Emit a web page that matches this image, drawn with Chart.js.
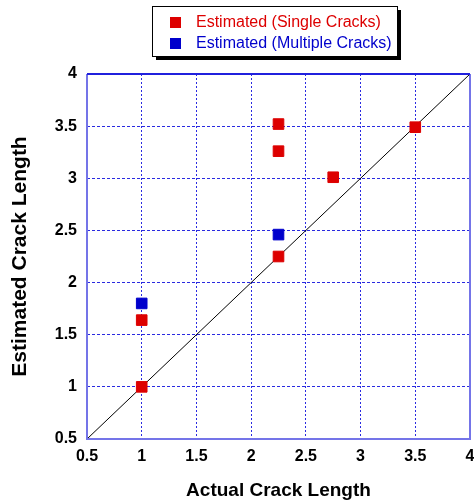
<!DOCTYPE html>
<html lang="en">
<head>
    <meta charset="UTF-8">
    <title>Estimated vs Actual Crack Length</title>
    <script src="https://cdn.jsdelivr.net/npm/chart.js"></script>
    <style>
        html, body { margin: 0; padding: 0; background: #fff; }
        #wrap { width: 474px; height: 504px; }
    </style>
</head>
<body>
    <div id="wrap"><canvas id="crackChart"></canvas></div>

    <script>
        // data
        const singleActual = [1, 1, 2.25, 2.25, 2.25, 2.75, 3.5]
        const singleEstimated = [1, 1.64, 2.25, 3.26, 3.52, 3.01, 3.49]
        const multipleActual = [1, 2.25]
        const multipleEstimated = [1.80, 2.46]
        const idealLine = [0.5, 4]
        const seriesNames = ['Estimated (Single Cracks)', 'Estimated (Multiple Cracks)']
        const axisTicks = [0.5, 1, 1.5, 2, 2.5, 3, 3.5, 4]

        const FONT = "'Liberation Sans', Arial, sans-serif"
        const RED = '#dd0000'
        const BLUE = '#0000cc'

        const toPoints = (xs, ys) => xs.map((x, i) => ({ x: x, y: ys[i] }))

        // frame round the plot + boxed legend with shadow
        const decorations = {
            id: 'decorations',
            afterDraw(chart) {
                const { ctx, chartArea: a } = chart
                ctx.save()
                ctx.lineWidth = 2
                ctx.strokeStyle = '#7474e8'
                ctx.beginPath()
                ctx.moveTo(a.left, a.top)
                ctx.lineTo(a.left, a.bottom)
                ctx.lineTo(a.right, a.bottom)
                ctx.lineTo(a.right, a.top)
                ctx.stroke()
                ctx.strokeStyle = '#2020dd'
                ctx.beginPath()
                ctx.moveTo(a.left, a.top)
                ctx.lineTo(a.right, a.top)
                ctx.stroke()

                // legend
                const bx = 152, by = 6, bw = 245, bh = 50
                ctx.fillStyle = '#000'
                ctx.fillRect(bx + 4, by + 4, bw, bh)
                ctx.fillStyle = '#fff'
                ctx.fillRect(bx, by, bw, bh)
                ctx.lineWidth = 1
                ctx.strokeStyle = '#000'
                ctx.strokeRect(bx + 0.5, by + 0.5, bw, bh)
                ctx.font = '16px ' + FONT
                ctx.textBaseline = 'middle'
                chart.data.datasets.slice(0, 2).forEach((ds, i) => {
                    const y = 22 + i * 21
                    ctx.fillStyle = ds.backgroundColor
                    ctx.fillRect(170, y - 5, 11, 11)
                    ctx.fillText(ds.label, 196, y + 1)
                })
                ctx.restore()
            }
        }

        const tickFont = { family: FONT, size: 16, weight: 'bold' }

        const ctx = document.getElementById('crackChart').getContext('2d')
        const chart = new Chart(ctx, {
            type: 'scatter',
            data: {
                datasets: [{
                    label: seriesNames[0],
                    data: toPoints(singleActual, singleEstimated),
                    backgroundColor: RED,
                    borderColor: RED,
                    pointStyle: 'rect',
                    pointRadius: 7.5,
                    borderWidth: 1,
                    order: 1
                }, {
                    label: seriesNames[1],
                    data: toPoints(multipleActual, multipleEstimated),
                    backgroundColor: BLUE,
                    borderColor: BLUE,
                    pointStyle: 'rect',
                    pointRadius: 7.5,
                    borderWidth: 1,
                    order: 0
                }, {
                    type: 'line',
                    label: 'ideal',
                    data: toPoints(idealLine, idealLine),
                    borderColor: '#000',
                    borderWidth: 1,
                    pointRadius: 0,
                    fill: false,
                    order: 2
                }]
            },
            options: {
                responsive: true,
                maintainAspectRatio: false,
                animation: false,
                layout: { autoPadding: false, padding: { top: 74, right: 4, left: 0, bottom: 0 } },
                plugins: {
                    legend: { display: false },
                    tooltip: { enabled: false }
                },
                scales: {
                    x: {
                        type: 'linear',
                        min: 0.5, max: 4,
                        afterBuildTicks: s => { s.ticks = axisTicks.map(v => ({ value: v })) },
                        afterFit: s => { s.height = 65; s.paddingLeft = 0; s.paddingRight = 0 },
                        grid: { color: '#2a2ae0', lineWidth: 1, drawTicks: false },
                        border: { display: false, dash: [2, 2] },
                        ticks: { color: '#000', padding: 8, font: tickFont, callback: v => String(v) },
                        title: {
                            display: true, text: 'Actual Crack Length', color: '#000',
                            padding: { top: 0, bottom: 2 },
                            font: { family: FONT, size: 19, weight: 'bold' }
                        }
                    },
                    y: {
                        type: 'linear',
                        min: 0.5, max: 4,
                        afterBuildTicks: s => { s.ticks = axisTicks.map(v => ({ value: v })) },
                        afterFit: s => { s.width = 87; s.paddingTop = 0; s.paddingBottom = 0 },
                        grid: { color: '#2a2ae0', lineWidth: 1, drawTicks: false },
                        border: { display: false, dash: [3, 2] },
                        ticks: { color: '#000', padding: 10, font: tickFont, callback: v => String(v) },
                        title: {
                            display: true, text: 'Estimated Crack Length', color: '#000',
                            padding: { top: 8, bottom: 0 },
                            font: { family: FONT, size: 21, weight: 'bold' }
                        }
                    }
                }
            },
            plugins: [decorations]
        })
    </script>
</body>
</html>
